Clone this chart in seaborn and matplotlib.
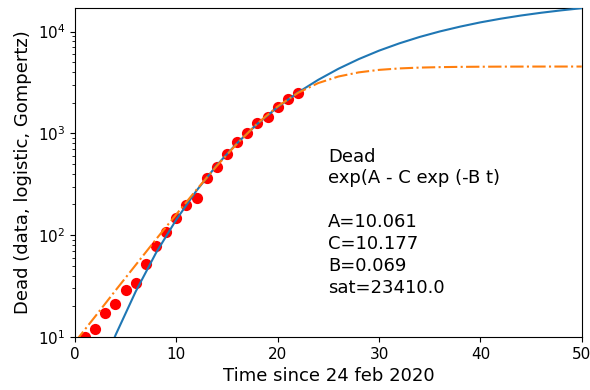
import numpy as np
import seaborn as sns
import matplotlib.pyplot as plt

# observed deaths, days since 24 feb 2020
days = list(range(23))
dead = [7, 10, 12, 17, 21, 29, 34, 52, 79, 107, 148, 197, 233, 366, 463, 631,
        827, 1016, 1266, 1441, 1809, 2158, 2503]

# fitted curves, every 2 days
t_fit = list(range(0, 51, 2))
gompertz = [0.9, 3.3, 10.4, 28, 67, 142, 274, 487, 802, 1239, 1809, 2517, 3353,
            4310, 5360, 6487, 7650, 8840, 10020, 11170, 12300, 13360, 14360,
            15290, 16150, 16950]
logistic = [8.9, 15.9, 28.6, 51, 91, 160, 280, 479, 793, 1250, 1840, 2496, 3116,
            3616, 3970, 4200, 4340, 4423, 4469, 4496, 4511, 4520, 4525, 4528,
            4529, 4530]

note = "Dead\nexp(A - C exp (-B t)\n\nA=10.061\nC=10.177\nB=0.069\nsat=23410.0"

fig, ax = plt.subplots(figsize=(5.9, 3.9), dpi=100)
plt.subplots_adjust(left=0.127, right=0.986, bottom=0.136, top=0.979)

sns.scatterplot(x=days, y=dead, color='red', s=65, linewidth=0, ax=ax, zorder=2)
sns.lineplot(x=t_fit, y=gompertz, color='#1f77b4', lw=1.5, ax=ax, zorder=3)
sns.lineplot(x=t_fit, y=logistic, color='#ff7f0e', lw=1.5, linestyle='-.', ax=ax, zorder=4)

ax.set_yscale('log')
ax.set_xlim(0, 50)
ax.set_ylim(10, max(gompertz))
ax.tick_params(labelsize=11)
ax.set_xlabel('Time since 24 feb 2020', fontsize=13)
ax.set_ylabel('Dead (data, logistic, Gompertz)', fontsize=13)
ax.text(25, 27, note, fontsize=13, linespacing=1.28)

plt.savefig('out.png')
